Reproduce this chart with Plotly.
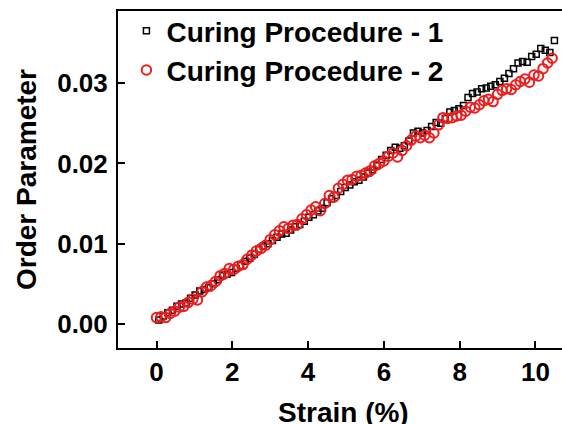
import plotly.graph_objects as go

strain_1 = [0.06, 0.18, 0.30, 0.42, 0.54, 0.66, 0.78, 0.90, 1.02, 1.14,
            1.26, 1.38, 1.50, 1.62, 1.74, 1.86, 1.98, 2.10, 2.22, 2.34,
            2.46, 2.58, 2.70, 2.82, 2.94, 3.06, 3.18, 3.30, 3.42, 3.54,
            3.66, 3.78, 3.90, 4.02, 4.14, 4.26, 4.38, 4.50, 4.62, 4.74,
            4.86, 4.98, 5.10, 5.22, 5.34, 5.46, 5.58, 5.70, 5.82, 5.94,
            6.06, 6.18, 6.30, 6.42, 6.54, 6.66, 6.78, 6.90, 7.02, 7.14,
            7.26, 7.38, 7.50, 7.62, 7.74, 7.86, 7.98, 8.10, 8.22, 8.34,
            8.46, 8.58, 8.70, 8.82, 8.94, 9.06, 9.18, 9.30, 9.42, 9.54,
            9.66, 9.78, 9.90, 10.02, 10.14, 10.26, 10.38, 10.50]
order_1 = [0.0005, 0.0010, 0.0014, 0.0017, 0.0022, 0.0025, 0.0026, 0.0032, 0.0036, 0.0041,
           0.0043, 0.0045, 0.0050, 0.0055, 0.0060, 0.0062, 0.0064, 0.0069, 0.0073, 0.0078,
           0.0082, 0.0087, 0.0093, 0.0097, 0.0100, 0.0104, 0.0108, 0.0112, 0.0113, 0.0117,
           0.0121, 0.0124, 0.0128, 0.0133, 0.0136, 0.0141, 0.0144, 0.0151, 0.0156, 0.0160,
           0.0165, 0.0170, 0.0173, 0.0177, 0.0179, 0.0183, 0.0188, 0.0192, 0.0197, 0.0205,
           0.0210, 0.0216, 0.0220, 0.0219, 0.0222, 0.0228, 0.0238, 0.0240, 0.0238, 0.0241,
           0.0246, 0.0251, 0.0250, 0.0256, 0.0264, 0.0266, 0.0268, 0.0272, 0.0282, 0.0287,
           0.0289, 0.0293, 0.0294, 0.0296, 0.0298, 0.0302, 0.0306, 0.0312, 0.0318, 0.0325,
           0.0327, 0.0326, 0.0333, 0.0336, 0.0343, 0.0341, 0.0338, 0.0353]

strain_2 = [0.00, 0.12, 0.24, 0.36, 0.48, 0.60, 0.72, 0.84, 0.96, 1.08,
            1.20, 1.32, 1.44, 1.56, 1.68, 1.80, 1.92, 2.04, 2.16, 2.28,
            2.40, 2.52, 2.64, 2.76, 2.88, 3.00, 3.12, 3.24, 3.36, 3.48,
            3.60, 3.72, 3.84, 3.96, 4.08, 4.20, 4.32, 4.44, 4.56, 4.68,
            4.80, 4.92, 5.04, 5.16, 5.28, 5.40, 5.52, 5.64, 5.76, 5.88,
            6.00, 6.12, 6.24, 6.36, 6.48, 6.60, 6.72, 6.84, 6.96, 7.08,
            7.20, 7.32, 7.44, 7.56, 7.68, 7.80, 7.92, 8.04, 8.16, 8.28,
            8.40, 8.52, 8.64, 8.76, 8.88, 9.00, 9.12, 9.24, 9.36, 9.48,
            9.60, 9.72, 9.84, 9.96, 10.08, 10.20, 10.32, 10.44]
order_2 = [0.0008, 0.0009, 0.0008, 0.0013, 0.0016, 0.0021, 0.0022, 0.0027, 0.0031, 0.0030,
           0.0040, 0.0046, 0.0048, 0.0053, 0.0060, 0.0063, 0.0069, 0.0068, 0.0072, 0.0074,
           0.0081, 0.0086, 0.0091, 0.0094, 0.0098, 0.0105, 0.0111, 0.0116, 0.0121, 0.0119,
           0.0123, 0.0124, 0.0131, 0.0136, 0.0142, 0.0146, 0.0141, 0.0150, 0.0160, 0.0158,
           0.0169, 0.0174, 0.0179, 0.0180, 0.0184, 0.0185, 0.0188, 0.0191, 0.0197, 0.0200,
           0.0203, 0.0209, 0.0213, 0.0208, 0.0216, 0.0222, 0.0229, 0.0234, 0.0232, 0.0235,
           0.0232, 0.0238, 0.0248, 0.0257, 0.0256, 0.0257, 0.0259, 0.0260, 0.0265, 0.0270,
           0.0269, 0.0273, 0.0278, 0.0280, 0.0277, 0.0286, 0.0291, 0.0293, 0.0292, 0.0298,
           0.0302, 0.0305, 0.0301, 0.0310, 0.0309, 0.0318, 0.0325, 0.0331]

x_ticks = [0, 2, 4, 6, 8, 10]
y_ticks = [0.00, 0.01, 0.02, 0.03]
y_tick_labels = ["0.00", "0.01", "0.02", "0.03"]
x_title = "Strain (%)"
y_title = "Order Parameter"

FONT = "Liberation Sans, Arial, sans-serif"
RED = "#f01c1c"

fig = go.Figure()
fig.add_trace(go.Scatter(
    x=strain_1, y=order_1, mode="markers", name="Curing Procedure - 1",
    legendgroup="a",
    marker=dict(symbol="square-open", size=6, color="black", line=dict(width=1.5, color="black")),
))
fig.add_trace(go.Scatter(
    x=strain_2, y=order_2, mode="markers", name="Curing Procedure - 2",
    legendgroup="b",
    marker=dict(symbol="circle-open", size=9.5, color=RED, line=dict(width=2, color=RED)),
))

fig.update_layout(
    width=562, height=424,
    margin=dict(l=118, r=0, t=11, b=76, autoexpand=False),
    paper_bgcolor="white", plot_bgcolor="white",
    font=dict(family=FONT, size=26, color="black", weight="bold"),
    showlegend=True,
    legend=dict(x=0.019, y=1.015, xanchor="left", yanchor="top",
                bgcolor="rgba(0,0,0,0)", font=dict(size=28, family=FONT, weight="bold"),
                tracegroupgap=0, itemsizing="trace"),
    annotations=[dict(text=x_title, xref="paper", yref="paper", x=0.509, y=-0.19,
                      xanchor="center", yanchor="middle", showarrow=False,
                      font=dict(size=28, family=FONT, weight="bold", color="black"))],
)
fig.update_xaxes(
    range=[-1.016, 10.70], tickvals=x_ticks, ticks="inside", ticklen=7, tickwidth=2,
    tickcolor="black", showline=True, linecolor="black", linewidth=2, mirror=True,
    showgrid=False, zeroline=False, ticklabelstandoff=0, automargin=False,
    tickfont=dict(size=26, family=FONT, weight="bold"),
)
fig.update_yaxes(
    range=[-0.00299, 0.03898], tickvals=y_ticks, ticktext=y_tick_labels, ticks="inside",
    ticklen=7, tickwidth=2, tickcolor="black", showline=True, linecolor="black", linewidth=2,
    mirror=False, showgrid=False, zeroline=False, ticklabelstandoff=3, automargin=False,
    tickfont=dict(size=26, family=FONT, weight="bold"),
    title=dict(text=y_title, font=dict(size=28, family=FONT, weight="bold"), standoff=12),
)

fig.write_html("out.html", config={"displayModeBar": False},
               post_script="document.body.style.margin='0px';document.body.style.overflow='hidden';")
